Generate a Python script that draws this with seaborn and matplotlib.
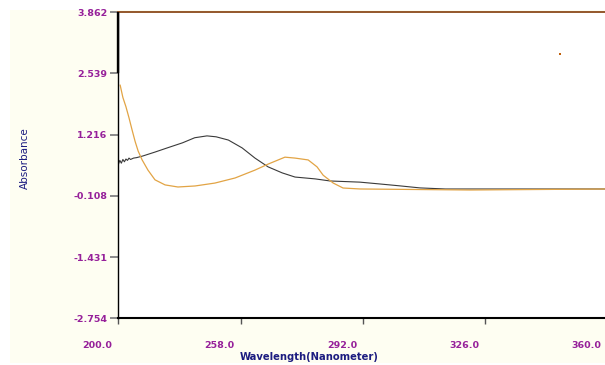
import numpy as np
import pandas as pd
import matplotlib
matplotlib.use("Agg")
import matplotlib.pyplot as plt
import matplotlib.transforms as mtransforms
from matplotlib.patches import Rectangle
import seaborn as sns

# Scan data (wavelength axis units, absorbance)
black_wl = [200.0, 200.5, 201.0, 201.5, 202.0, 202.5, 203.0, 203.5, 204.0, 205.0,
            206.0, 208.0, 212.0, 216.0, 221.0, 225.0, 229.0, 232.0, 236.0, 240.5,
            244.7, 249.0, 253.6, 257.8, 264.4, 269.3, 279.0, 285.6, 292.0, 298.7,
            307.0, 330.0, 360.0]
black_abs = [0.57, 0.66, 0.60, 0.68, 0.63, 0.69, 0.66, 0.71, 0.68, 0.71,
             0.72, 0.755, 0.84, 0.93, 1.04, 1.15, 1.19, 1.17, 1.10, 0.93,
             0.71, 0.52, 0.39, 0.30, 0.26, 0.215, 0.19, 0.15, 0.11, 0.065,
             0.042, 0.042, 0.042]

orange_wl = [200.6, 201.5, 202.5, 203.5, 204.5, 205.5, 206.5, 207.8, 209.7, 212.0,
             215.3, 219.5, 225.1, 231.6, 238.2, 244.7, 249.0, 254.5, 257.8, 262.1,
             265.0, 267.0, 270.3, 273.5, 279.1, 315.0, 360.0]
orange_abs = [2.29, 2.02, 1.82, 1.58, 1.32, 1.07, 0.86, 0.67, 0.45, 0.24,
              0.13, 0.085, 0.107, 0.17, 0.28, 0.45, 0.58, 0.73, 0.71, 0.67,
              0.52, 0.34, 0.17, 0.063, 0.042, 0.02, 0.042]

marker_wl = [344.5]
marker_abs = [2.96]

x_ticks = [200, 240, 280, 320, 360]
x_tick_labels = ["200.0", "258.0", "292.0", "326.0", "360.0"]
y_ticks = [3.862, 2.539, 1.216, -0.108, -1.431, -2.754]
y_tick_labels = ["3.862", "2.539", "1.216", "-0.108", "-1.431", "-2.754"]

sns.set_style("white")
plt.rcParams["font.family"] = ["DejaVu Sans"]

W, H = 605, 365
fig = plt.figure(figsize=(W / 100, H / 100), dpi=100)
fig.patch.set_facecolor("white")
fig.patches.append(Rectangle((10 / W, 2 / H), 1, (H - 12) / H, transform=fig.transFigure,
                             facecolor="#FEFEF2", edgecolor="none", zorder=-5))

ax = fig.add_axes([118.3 / W, 1 - 318.3 / H, 489.2 / W, 306 / H])
ax.set_facecolor("white")

df_black = pd.DataFrame({"wl": black_wl, "abs": black_abs})
df_orange = pd.DataFrame({"wl": orange_wl, "abs": orange_abs})
sns.lineplot(data=df_black, x="wl", y="abs", ax=ax, color="#3a3a3a", lw=0.8,
             estimator=None, sort=False)
sns.lineplot(data=df_orange, x="wl", y="abs", ax=ax, color="#E2A445", lw=0.9,
             estimator=None, sort=False)
ax.scatter(marker_wl, marker_abs, marker="s", s=3, color="#C0600A", linewidths=0)

ax.set_xlim(x_ticks[0], x_ticks[-1])
ax.set_ylim(y_ticks[-1], y_ticks[0])

# thicker upper part of the left frame
ax.vlines(x_ticks[0], y_ticks[1], y_ticks[0], color="black", lw=1.7, clip_on=False, zorder=5)

ax.set_xticks(x_ticks)
ax.set_xticklabels(x_tick_labels)
ax.set_yticks(y_ticks)
ax.set_yticklabels(y_tick_labels)
ax.set_xlabel("")
ax.set_ylabel("")

purple = "#96209A"
ax.tick_params(axis="y", direction="out", length=6, width=1.4, color="#8a8a8a",
               pad=2, labelsize=6.8, labelcolor=purple, left=True)
ax.tick_params(axis="x", direction="out", length=4.3, width=1.0, color="#555555",
               pad=12, labelsize=6.8, labelcolor=purple, bottom=True)
for lab in ax.get_yticklabels() + ax.get_xticklabels():
    lab.set_fontweight("bold")
shift = mtransforms.ScaledTranslation(-6 / 100, 0, fig.dpi_scale_trans)
for lab in ax.get_xticklabels():
    lab.set_horizontalalignment("right")
    lab.set_transform(lab.get_transform() + shift)

for side in ["top", "left", "bottom", "right"]:
    ax.spines[side].set_visible(True)
ax.spines["top"].set_color("#8B4A1A")
ax.spines["top"].set_linewidth(1.3)
ax.spines["left"].set_color("black")
ax.spines["left"].set_linewidth(1.0)
ax.spines["bottom"].set_color("black")
ax.spines["bottom"].set_linewidth(1.5)
ax.spines["right"].set_visible(False)

navy = "#1C1C80"
fig.text(25 / W, 1 - 158 / H, "Absorbance", rotation=90, ha="center", va="center",
         fontsize=7.5, color=navy)
fig.text(240 / W, 1 - 357 / H, "Wavelength(Nanometer)", ha="left", va="center",
         fontsize=7.2, fontweight="bold", color=navy)

fig.savefig("out.png", dpi=100)
